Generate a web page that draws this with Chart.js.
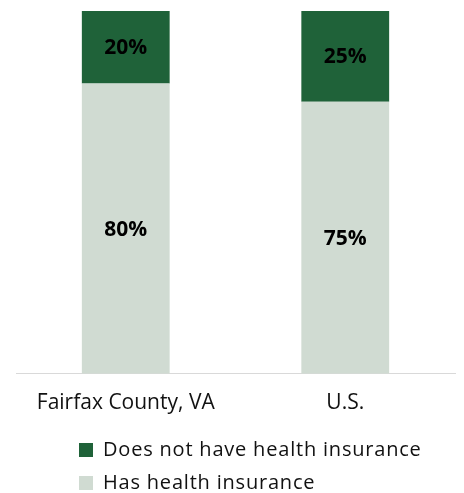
<!DOCTYPE html>
<html><head><meta charset="utf-8">
<script src="https://cdn.jsdelivr.net/npm/chart.js@4"></script>
<style>html,body{margin:0;padding:0;background:#fff}#wrap{width:464px;height:493px;position:relative}</style>
</head><body><div id="wrap"><canvas id="c"></canvas></div>
<script>
const categories = ['Fairfax County, VA', 'U.S.'];
const hasInsurance = [80, 75];
const noInsurance = [20, 25];
const seriesNames = ['Has health insurance', 'Does not have health insurance'];
const seriesColors = ['#d0dbd2', '#1f6239'];

const segLabels = {
  id: 'segLabels',
  afterDatasetsDraw(chart) {
    const ctx = chart.ctx;
    ctx.save();
    ctx.font = 'bold 21px "Open Sans", "Liberation Sans", sans-serif';
    ctx.fillStyle = '#000';
    ctx.textAlign = 'center';
    ctx.textBaseline = 'middle';
    chart.data.datasets.forEach((ds, i) => {
      chart.getDatasetMeta(i).data.forEach((bar, j) => {
        const p = bar.getProps(['x', 'y', 'base'], true);
        ctx.fillText(ds.data[j] + '%', p.x, (p.y + p.base) / 2 + 1);
      });
    });
    ctx.restore();
  }
};

const legendPlace = {
  id: 'legendPlace',
  afterLayout(chart) {
    const lg = chart.legend;
    const dx = 66 - lg.left;
    lg.left += dx; lg.right += dx;
    const dy = 427 - lg.top;
    lg.top += dy; lg.bottom += dy;
    if (!lg._patched) {
      const orig = lg.draw.bind(lg);
      lg.draw = function () {
        const c = this.ctx;
        const prev = c.letterSpacing;
        c.letterSpacing = '0.8px';
        orig();
        c.letterSpacing = prev;
      };
      lg._patched = true;
    }
  }
};

new Chart(document.getElementById('c'), {
  type: 'bar',
  data: {
    labels: categories,
    datasets: [
      { label: seriesNames[0], data: hasInsurance, backgroundColor: seriesColors[0] },
      { label: seriesNames[1], data: noInsurance, backgroundColor: seriesColors[1] }
    ]
  },
  options: {
    responsive: true,
    maintainAspectRatio: false,
    animation: false,
    layout: { padding: { top: 11, left: 16, right: 9, bottom: -16 } },
    datasets: { bar: { barPercentage: 0.4, categoryPercentage: 1.0 } },
    scales: {
      x: {
        stacked: true,
        grid: { display: false, drawTicks: false },
        border: { display: true, color: '#d9d9d9', width: 1 },
        ticks: { color: '#111', font: { family: '"Open Sans", sans-serif', size: 21 }, padding: 17, maxRotation: 0 }
      },
      y: { stacked: true, display: false, min: 0, max: 100 }
    },
    plugins: {
      legend: {
        position: 'bottom',
        align: 'start',
        reverse: true,
        labels: {
          color: '#111',
          boxWidth: 14, boxHeight: 14, padding: 13,
          font: { family: '"Open Sans", sans-serif', size: 20 }
        }
      },
      tooltip: { enabled: false }
    }
  },
  plugins: [segLabels, legendPlace]
});
</script></body></html>
